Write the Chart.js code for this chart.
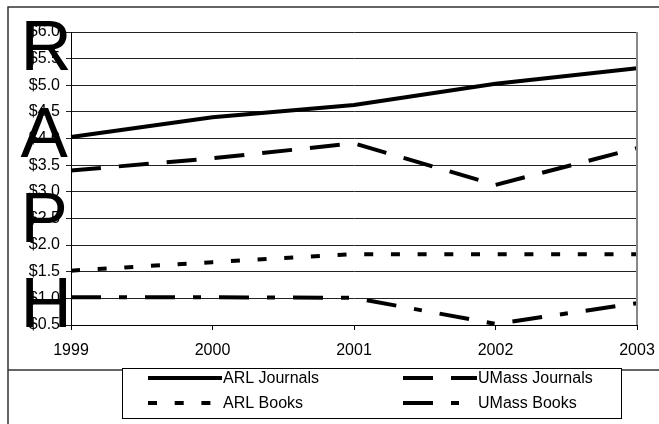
<!DOCTYPE html>
<html>
<head>
<meta charset="utf-8">
<script src="https://cdn.jsdelivr.net/npm/chart.js@4.4.0/dist/chart.umd.min.js"></script>
<style>
body { margin:0; background:#fff; }
canvas { display:block; }
</style>
</head>
<body>
<canvas id="myChart" width="659" height="424"></canvas>
<script>
// values
const years = ['1999', '2000', '2001', '2002', '2003'];
const arlJournals = [4.03, 4.40, 4.63, 5.03, 5.32];
const umassJournals = [3.40, 3.63, 3.91, 3.13, 3.82];
const arlBooks = [1.52, 1.68, 1.83, 1.83, 1.83];
const umassBooks = [1.02, 1.02, 1.01, 0.52, 0.91];
const bigLetters = ['R', 'A', 'P', 'H'];

const FONT = '"Liberation Sans", Arial, sans-serif';

function ds(label, data, dash) {
  return {
    label: label,
    data: data,
    borderColor: '#000',
    borderWidth: 4,
    borderDash: dash,
    borderCapStyle: 'butt',
    pointRadius: 0,
    tension: 0,
    fill: false
  };
}

// frame, legend box, the big letters
const extras = {
  id: 'extras',
  beforeDraw(chart) {
    const ctx = chart.ctx;
    ctx.save();
    ctx.fillStyle = '#fff';
    ctx.fillRect(0, 0, chart.width, chart.height);
    ctx.strokeStyle = '#333';
    ctx.lineWidth = 1.5;
    ctx.beginPath();
    ctx.moveTo(8, chart.height);
    ctx.lineTo(8, 7);
    ctx.lineTo(chart.width, 7);
    ctx.moveTo(8, 370);
    ctx.lineTo(chart.width, 370);
    ctx.stroke();
    ctx.restore();
  },
  afterDraw(chart) {
    const ctx = chart.ctx;
    const a = chart.chartArea;
    ctx.save();
    // right edge of plot
    ctx.strokeStyle = '#888';
    ctx.lineWidth = 2;
    ctx.beginPath();
    ctx.moveTo(a.right, a.top);
    ctx.lineTo(a.right, a.bottom);
    ctx.stroke();

    // big letters
    ctx.fillStyle = '#000';
    ctx.font = '71px ' + FONT;
    ctx.textAlign = 'left';
    ctx.textBaseline = 'alphabetic';
    const baselines = [70, 157, 242, 327];
    bigLetters.forEach((l, i) => ctx.fillText(l, 20.5, baselines[i]));

    // legend
    ctx.fillStyle = '#fff';
    ctx.fillRect(122, 368, 499, 50);
    ctx.strokeStyle = '#000';
    ctx.lineWidth = 1;
    ctx.strokeRect(122.5, 368.5, 499, 50);
    const cols = [148, 403];
    const rows = [378, 403];
    ctx.font = '16px ' + FONT;
    ctx.textBaseline = 'middle';
    chart.data.datasets.forEach((d, i) => {
      const x = cols[i % 2];
      const y = rows[Math.floor(i / 2)];
      ctx.strokeStyle = '#000';
      ctx.lineWidth = 4;
      ctx.setLineDash(d.borderDash || []);
      ctx.beginPath();
      ctx.moveTo(x, y);
      ctx.lineTo(x + 74, y);
      ctx.stroke();
      ctx.setLineDash([]);
      ctx.fillStyle = '#000';
      ctx.fillText(d.label, x + 75, y + 1);
    });
    ctx.restore();
  }
};

new Chart(document.getElementById('myChart').getContext('2d'), {
  type: 'line',
  data: {
    labels: years,
    datasets: [
      ds('ARL Journals', arlJournals, []),
      ds('UMass Journals', umassJournals, [30, 18]),
      ds('ARL Books', arlBooks, [9, 17.7]),
      ds('UMass Books', umassBooks, [30, 18, 8, 18])
    ]
  },
  options: {
    responsive: false,
    animation: false,
    devicePixelRatio: 1,
    layout: { padding: { left: 8, top: 32, right: 22, bottom: 69 } },
    plugins: { legend: { display: false }, tooltip: { enabled: false } },
    scales: {
      x: {
        offset: false,
        afterFit: (s) => { s.height = 30; s.paddingLeft = 0; s.paddingRight = 0; },
        grid: { drawOnChartArea: false, color: '#000', tickLength: 5 },
        border: { color: '#000', width: 1 },
        ticks: { color: '#000', font: { family: FONT, size: 16 }, padding: 11, maxRotation: 0 }
      },
      y: {
        min: 0.5,
        max: 6.0,
        afterFit: (s) => { s.width = 63; },
        grid: { color: '#222', tickLength: 5 },
        border: { color: '#000', width: 1 },
        ticks: {
          stepSize: 0.5,
          color: '#000',
          padding: 6,
          font: { family: FONT, size: 16 },
          callback: (v) => '$' + Number(v).toFixed(1)
        }
      }
    }
  },
  plugins: [extras]
});
</script>
</body>
</html>
